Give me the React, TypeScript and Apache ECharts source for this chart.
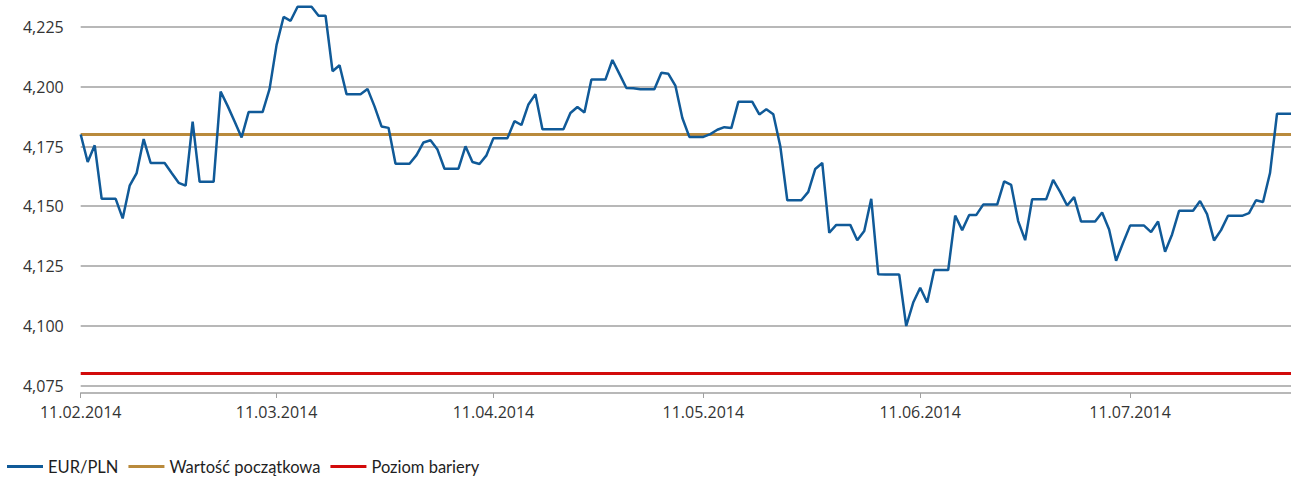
import React, { useEffect, useRef } from "react";
import * as echarts from "echarts";

// Calendar days from 11.02.2014 (weekends carry Friday's fixing)
const START_DATE = "2014-02-11";
const DAY_COUNT = 174;

const eurPln: number[] = [
  4.18, 4.1685, 4.1755, 4.1531, 4.1531, 4.1531, 4.1449, 4.1586, 4.1639, 4.1781,
  4.1681, 4.1681, 4.1681, 4.1639, 4.1598, 4.1586, 4.1854, 4.1602, 4.1602, 4.1602,
  4.198, 4.192, 4.1855, 4.1788, 4.1894, 4.1894, 4.1894, 4.1991, 4.2175, 4.2292,
  4.2276, 4.2335, 4.2335, 4.2335, 4.2297, 4.2297, 4.2065, 4.209, 4.1969, 4.1969,
  4.1969, 4.1991, 4.1918, 4.1834, 4.1828, 4.1678, 4.1678, 4.1678, 4.1714, 4.1767,
  4.1776, 4.1737, 4.1657, 4.1657, 4.1657, 4.1751, 4.1685, 4.1677, 4.1713, 4.1785,
  4.1785, 4.1785, 4.1856, 4.184, 4.1926, 4.1969, 4.1822, 4.1822, 4.1822, 4.1822,
  4.189, 4.1915, 4.1892, 4.203, 4.203, 4.203, 4.2112, 4.2054, 4.1995, 4.1994,
  4.199, 4.199, 4.199, 4.2059, 4.2054, 4.2005, 4.1869, 4.179, 4.179, 4.179,
  4.1802, 4.182, 4.1831, 4.1827, 4.1937, 4.1937, 4.1937, 4.1884, 4.1906, 4.1885,
  4.1751, 4.1525, 4.1525, 4.1525, 4.156, 4.1656, 4.1681, 4.1389, 4.1422, 4.1422,
  4.1422, 4.1358, 4.1396, 4.1531, 4.1215, 4.1214, 4.1214, 4.1214, 4.0999, 4.1097,
  4.1159, 4.1097, 4.1233, 4.1233, 4.1233, 4.1461, 4.14, 4.1463, 4.1463, 4.1507,
  4.1507, 4.1507, 4.1604, 4.1589, 4.1438, 4.1358, 4.1529, 4.1529, 4.1529, 4.161,
  4.156, 4.1503, 4.1538, 4.1436, 4.1436, 4.1436, 4.1474, 4.1403, 4.1272, 4.1347,
  4.1419, 4.1419, 4.1419, 4.1392, 4.1436, 4.131, 4.1382, 4.1481, 4.1481, 4.1481,
  4.1522, 4.1467, 4.1357, 4.14, 4.146, 4.146, 4.146, 4.1471, 4.1525, 4.1518,
  4.1639, 4.1887, 4.1887, 4.1887,
];

const START_VALUE = 4.18; // Wartość początkowa
const BARRIER = 4.08; // Poziom bariery

const Y_MIN = 4.075;
const Y_MAX = 4.235;
const Y_STEP = 0.025;

const SERIES_NAMES = ["EUR/PLN", "Wartość początkowa", "Poziom bariery"];
const COLORS = ["#105a98", "#b98a3c", "#d20a0a"];

function buildDates(): string[] {
  const out: string[] = [];
  const d0 = new Date(START_DATE + "T12:00:00Z");
  for (let i = 0; i < DAY_COUNT; i++) {
    const d = new Date(d0.getTime() + i * 86400000);
    const dd = String(d.getUTCDate()).padStart(2, "0");
    const mm = String(d.getUTCMonth() + 1).padStart(2, "0");
    out.push(`${dd}.${mm}.${d.getUTCFullYear()}`);
  }
  return out;
}

export default function App() {
  const ref = useRef<HTMLDivElement>(null);

  useEffect(() => {
    if (!ref.current) return;
    const chart = echarts.init(ref.current, undefined, { renderer: "svg" });
    const dates = buildDates();
    const isMonthTick = (idx: number) => dates[idx].startsWith("11.");
    const gridColor = "#a0a0a0";

    chart.setOption({
      animation: false,
      backgroundColor: "#ffffff",
      grid: { left: 80.7, right: -2.4, top: 3.1, bottom: 91.5, containLabel: false },
      legend: {
        left: 2,
        top: 453,
        icon: "rect",
        itemWidth: 36,
        itemHeight: 3,
        itemGap: 10,
        data: SERIES_NAMES,
        textStyle: { fontFamily: "Lato", fontSize: 16.5, color: "#1e1e1e" },
      },
      xAxis: {
        type: "category",
        data: dates,
        boundaryGap: false,
        offset: 7.5,
        axisLine: { show: true, lineStyle: { color: gridColor, width: 1.5 } },
        axisTick: {
          show: true,
          length: 5,
          interval: (idx: number) => isMonthTick(idx),
          lineStyle: { color: gridColor, width: 1 },
        },
        axisLabel: {
          interval: (idx: number) => isMonthTick(idx),
          margin: 11,
          fontFamily: "Open Sans",
          fontSize: 16,
          color: "#333333",
        },
        splitLine: { show: false },
      },
      yAxis: {
        type: "value",
        min: Y_MIN,
        max: Y_MAX,
        interval: Y_STEP,
        axisLine: { show: false },
        axisTick: { show: false },
        axisLabel: {
          margin: 17,
          fontFamily: "Open Sans",
          fontSize: 16,
          color: "#333333",
          showMaxLabel: false,
          formatter: (v: number) => v.toFixed(3).replace(".", ","),
        },
        splitLine: {
          show: true,
          showMaxLine: false,
          lineStyle: { color: gridColor, width: 1.5 },
        },
      },
      series: [
        {
          name: SERIES_NAMES[1],
          type: "line",
          data: dates.map(() => START_VALUE),
          symbol: "none",
          lineStyle: { color: COLORS[1], width: 3 },
          itemStyle: { color: COLORS[1] },
          z: 2,
        },
        {
          name: SERIES_NAMES[2],
          type: "line",
          data: dates.map(() => BARRIER),
          symbol: "none",
          lineStyle: { color: COLORS[2], width: 3 },
          itemStyle: { color: COLORS[2] },
          z: 2,
        },
        {
          name: SERIES_NAMES[0],
          type: "line",
          data: eurPln,
          symbol: "none",
          lineStyle: { color: COLORS[0], width: 2.5 },
          itemStyle: { color: COLORS[0] },
          z: 3,
        },
      ],
    });
    return () => chart.dispose();
  }, []);

  return (
    <div
      ref={ref}
      style={{ position: "fixed", left: 0, top: 0, width: 1291, height: 477 }}
    />
  );
}
